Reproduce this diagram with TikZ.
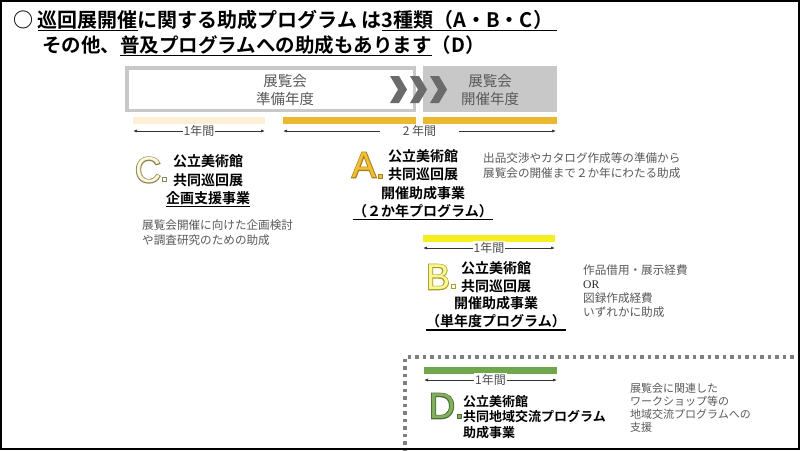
\documentclass[tikz,border=0pt]{standalone}
\usepackage{fontspec}
\setmainfont{Noto Sans CJK JP}
\newfontfamily\jpb{Noto Sans CJK JP Bold}
\newfontfamily\latf{Liberation Sans}
\newfontfamily\serf{Liberation Serif}
\usetikzlibrary{arrows.meta}
\definecolor{txtgray}{HTML}{595959}
\definecolor{boxgray}{HTML}{C8C8C8}
\definecolor{chevgray}{HTML}{6B6B6B}
\definecolor{beigebar}{HTML}{FCEFD6}
\definecolor{goldbar}{HTML}{E9B92F}
\definecolor{yellowbar}{HTML}{F6EE20}
\definecolor{greenbar}{HTML}{70A64C}
\definecolor{dotgray}{HTML}{7F7F7F}
\definecolor{cfill}{HTML}{FDF7DC}
\definecolor{afill}{HTML}{F0C034}
\definecolor{bfill}{HTML}{FAF69A}
\definecolor{dfill}{HTML}{82AF5E}
\definecolor{cline}{HTML}{8C8454}
\definecolor{aline}{HTML}{A8801E}
\definecolor{bline}{HTML}{A8A020}
\definecolor{dline}{HTML}{4C6C34}
\newsavebox\ulbox
\newcommand\ulin[1]{\sbox\ulbox{#1}\rlap{\vrule height -2.6pt depth 3.9pt width \wd\ulbox}\usebox\ulbox}
\newcommand\outletter[3]{{\latf\fontsize{36}{36}\selectfont\rlap{\color{#3}\special{pdf:literal direct 1 Tr 1.8 w}#1\special{pdf:literal direct 0 Tr 0.4 w}}\color{#2}#1}}
\tikzset{
  lab/.style={font=\jpb\fontsize{14}{18.3}\selectfont, align=center, inner sep=0},
  desc/.style={font=\fontsize{11.6}{15}\selectfont, text=txtgray, align=left, anchor=west, inner sep=0},
  dimline/.style={draw=black!80, line width=0.7pt, {Latex[length=4pt,width=3pt]}-{Latex[length=4pt,width=3pt]}},
  dimlab/.style={fill=white, font=\fontsize{12}{12}\selectfont, text=black!70, inner sep=1pt},
  bigl/.style={inner sep=0},
  sq/.style={line width=0.6pt},
}
\begin{document}
\begin{tikzpicture}[x=1pt,y=-1pt]
\useasboundingbox (0,0) rectangle (800,450);
\fill[white] (0,0) rectangle (800,450);
% title
\node[anchor=base west, inner sep=0, font=\jpb\fontsize{20}{24}\selectfont] (title1) at (13,27.4) {○ \ulin{巡回展開催}に関する助成プログラム は\ulin{3種類（A・B・C）\hspace{4pt}}};
\node[anchor=base west, inner sep=0, font=\jpb\fontsize{19.5}{24}\selectfont] (title2) at (42,52.4) {その他、\ulin{普及プログラムへの助成もあります}（D）};
% top bar
\node[draw=boxgray, line width=3.5pt, fill=white, minimum width=287.5, minimum height=42.5, inner sep=0] (prep) at (270.5,89) {};
\node[fill=boxgray, minimum width=134, minimum height=46, inner sep=0] (held) at (490,89) {};
\node[font=\fontsize{14.5}{18}\selectfont, text=txtgray, align=center, inner sep=0] (preptxt) at (285,90) {展覧会\\準備年度};
\node[font=\fontsize{14.5}{18}\selectfont, text=txtgray, align=center, inner sep=0] (heldtxt) at (490,90) {展覧会\\開催年度};
\foreach \x in {390,410,430}
  \fill[chevgray] (\x,76) -- ++(9,0) -- ++(8,13.5) -- ++(-8,13.5) -- ++(-9,0) -- ++(8,-13.5) -- cycle;
% bars
\fill[beigebar] (133,117) rectangle (265,124);
\fill[goldbar] (283,117) rectangle (416,124);
\fill[goldbar] (423,117) rectangle (557,124);
\coordinate (c1a) at (133,131); \coordinate (c1b) at (265,131);
\coordinate (c2a) at (283,131); \coordinate (c2b) at (556,131);
\draw[dimline] (c1a) -- (c1b) node[dimlab, midway] (c1l) {1年間};
\draw[dimline] (c2a) -- (c2b) node[dimlab, midway, minimum width=79] (c2l) {2 年間};
% C block
\node[bigl] (cL) at (148,170) {\outletter{C}{cfill}{cline}};
\draw[sq, cline, fill=white] (162,177) rectangle (166,181);
\node[lab] (cT) at (208,181) {公立美術館\\共同巡回展\\\ulin{企画支援事業}};
\node[desc, text width=170] (cD) at (142,233) {展覧会開催に向けた企画検討\\や調査研究のための助成};
% A block
\node[bigl] (aL) at (364,165) {\outletter{A}{afill}{aline}};
\draw[sq, aline, fill=afill] (378,174) rectangle (382,178);
\node[lab] (aT) at (423,185) {公立美術館\\共同巡回展\\開催助成事業\\\ulin{（２か年プログラム）}};
\node[desc, text width=220] (aD) at (483,166) {出品交渉やカタログ作成等の準備から\\展覧会の開催まで２か年にわたる助成};
% B block
\fill[yellowbar] (423,235) rectangle (555,242);
\coordinate (b1a) at (423,248); \coordinate (b1b) at (555,248);
\draw[dimline] (b1a) -- (b1b) node[dimlab, midway] (b1l) {1年間};
\node[bigl] (bL) at (438,277) {\outletter{B}{bfill}{bline}};
\draw[sq, bline, fill=white] (451,284) rectangle (455,288);
\node[lab, font=\jpb\fontsize{14}{17.8}\selectfont] (bT) at (496,296) {公立美術館\\共同巡回展\\開催助成事業\\\ulin{（単年度プログラム）}};
\node[desc, font=\fontsize{11.6}{14}\selectfont, text width=150] (bD) at (583,291) {作品借用・展示経費\\{\serf\color{black!85}OR}\\図録作成経費\\いずれかに助成};
% D block
\draw[dotgray, line width=3.5pt, dash pattern=on 3.5pt off 4pt] (405,452) -- (405,357) -- (802,357);
\fill[greenbar] (424,367) rectangle (557,374);
\coordinate (d1a) at (424,380); \coordinate (d1b) at (557,380);
\draw[dimline] (d1a) -- (d1b) node[dimlab, midway] (d1l) {1年間};
\node[bigl] (dL) at (442,406) {\outletter{D}{dfill}{dline}};
\draw[sq, dline, fill=dfill] (457,414) rectangle (461,418);
\node[lab, font=\jpb\fontsize{13}{15.5}\selectfont, align=left, anchor=west] (dT) at (463,417) {公立美術館\\共同地域交流プログラム\\助成事業};
\node[desc, font=\fontsize{11}{13}\selectfont, text width=150] (dD) at (630,407.5) {展覧会に関連した\\ワークショップ等の\\地域交流プログラムへの\\支援};
% frame
\draw[line width=2pt] (1,1) rectangle (799,449);
\end{tikzpicture}
\end{document}
